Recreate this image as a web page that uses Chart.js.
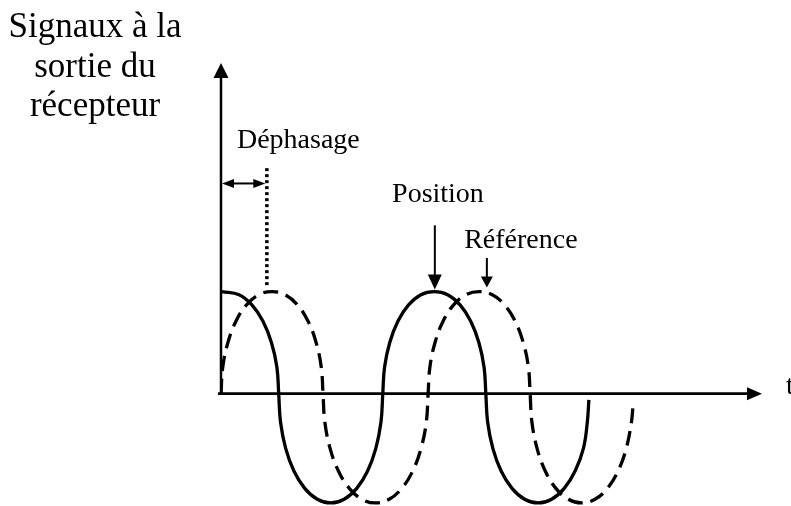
<!DOCTYPE html>
<html>
<head>
<meta charset="utf-8">
<script src="https://cdn.jsdelivr.net/npm/chart.js@4.4.1/dist/chart.umd.min.js"></script>
<style>
  html, body { margin: 0; padding: 0; background: #ffffff; }
  #wrap { width: 791px; height: 506px; position: relative; }
</style>
</head>
<body>
<div id="wrap"><canvas id="chart"></canvas></div>
<script>
// Signal "Position" (solid) - time in quarter periods, amplitude normalised
const timeSolid = [0.02, 0.35, 0.60, 0.815, 0.98, 1.085, 1.12,
                   1.155, 1.255, 1.415, 1.625, 1.87, 2.13, 2.39, 2.635, 2.845, 3.005, 3.105, 3.14,
                   3.174, 3.274, 3.433, 3.64, 3.881, 4.14, 4.399, 4.64, 4.847, 5.006, 5.106, 5.14,
                   5.175, 5.276, 5.437, 5.648, 5.893, 6.155, 6.417, 6.662, 6.873, 7.034, 7.11, 7.14];
const signalSolid = [1.00, 0.97, 0.87, 0.71, 0.50, 0.26, 0.00,
                     -0.277, -0.535, -0.757, -0.927, -1.034, -1.07, -1.034, -0.927, -0.757, -0.535, -0.277, 0.00,
                     0.26, 0.50, 0.71, 0.87, 0.97, 1.00, 0.97, 0.87, 0.71, 0.50, 0.26, 0.00,
                     -0.277, -0.535, -0.757, -0.927, -1.034, -1.07, -1.034, -0.927, -0.757, -0.535, -0.277, -0.06];

// Signal "Référence" (dashed)
const timeDashed = [0.00, 0.034, 0.133, 0.29, 0.495, 0.734, 0.99, 1.246, 1.485, 1.69, 1.847, 1.946, 1.98,
                    2.015, 2.117, 2.279, 2.49, 2.736, 3.00, 3.264, 3.51, 3.721, 3.883, 3.985, 4.02,
                    4.054, 4.153, 4.31, 4.515, 4.754, 5.01, 5.266, 5.505, 5.71, 5.867, 5.966, 6.00,
                    6.034, 6.134, 6.293, 6.50, 6.741, 7.00, 7.259, 7.50, 7.707, 7.866, 7.966, 7.995];
const signalDashed = [0.00, 0.26, 0.50, 0.71, 0.87, 0.97, 1.00, 0.97, 0.87, 0.71, 0.50, 0.26, 0.00,
                      -0.277, -0.535, -0.757, -0.927, -1.034, -1.07, -1.034, -0.927, -0.757, -0.535, -0.277, 0.00,
                      0.26, 0.50, 0.71, 0.87, 0.97, 1.00, 0.97, 0.87, 0.71, 0.50, 0.26, 0.00,
                      -0.277, -0.535, -0.757, -0.927, -1.034, -1.07, -1.034, -0.927, -0.757, -0.535, -0.277, -0.13];

const titleLines = ['Signaux à la', 'sortie du', 'récepteur'];
const axisLabel = 't';
const labelPhase = 'Déphasage';
const labelPosition = 'Position';
const labelReference = 'Référence';

const SERIF = "'Liberation Serif', 'Times New Roman', serif";

function toPoints(xs, ys) {
    return xs.map(function(x, i) { return { x: x, y: ys[i] }; });
}

// filled triangle, tip at (x, y)
function arrowHead(ctx, x, y, dir, len, half) {
    ctx.beginPath();
    ctx.moveTo(x, y);
    if (dir === 'up') { ctx.lineTo(x - half, y + len); ctx.lineTo(x + half, y + len); }
    if (dir === 'down') { ctx.lineTo(x - half, y - len); ctx.lineTo(x + half, y - len); }
    if (dir === 'left') { ctx.lineTo(x + len, y - half); ctx.lineTo(x + len, y + half); }
    if (dir === 'right') { ctx.lineTo(x - len, y - half); ctx.lineTo(x - len, y + half); }
    ctx.closePath();
    ctx.fill();
}

const figurePlugin = {
    id: 'figure',
    beforeDatasetsDraw(chart) {
        const ctx = chart.ctx;
        const xs = chart.scales.x, ys = chart.scales.y;
        const x0 = xs.getPixelForValue(0), y0 = ys.getPixelForValue(0);
        ctx.save();
        ctx.strokeStyle = '#000';
        ctx.fillStyle = '#000';
        // y axis
        ctx.lineWidth = 2.5;
        ctx.beginPath();
        ctx.moveTo(x0, y0 + 1);
        ctx.lineTo(x0, chart.chartArea.top + 12);
        ctx.stroke();
        arrowHead(ctx, x0, chart.chartArea.top + 1, 'up', 15, 7.5);
        // x axis
        ctx.lineWidth = 2.7;
        ctx.beginPath();
        ctx.moveTo(x0 - 3, y0);
        ctx.lineTo(chart.chartArea.right - 12, y0);
        ctx.stroke();
        arrowHead(ctx, chart.chartArea.right, y0, 'right', 15, 6.5);
        ctx.restore();
    },
    afterDatasetsDraw(chart) {
        const ctx = chart.ctx;
        const xs = chart.scales.x, ys = chart.scales.y;
        const px = function(v) { return xs.getPixelForValue(v); };
        const py = function(v) { return ys.getPixelForValue(v); };
        ctx.save();
        ctx.strokeStyle = '#000';
        ctx.fillStyle = '#000';

        // dotted marker of the reference peak
        ctx.lineWidth = 3.5;
        ctx.setLineDash([3, 3]);
        ctx.beginPath();
        ctx.moveTo(px(0.89), py(2.21));
        ctx.lineTo(px(0.89), py(1.04));
        ctx.stroke();
        ctx.setLineDash([]);

        // phase shift double arrow
        ctx.lineWidth = 2;
        ctx.beginPath();
        ctx.moveTo(px(0) + 8, py(2.06));
        ctx.lineTo(px(0.86) - 8, py(2.06));
        ctx.stroke();
        arrowHead(ctx, px(0) + 1, py(2.06), 'left', 12, 4.5);
        arrowHead(ctx, px(0.86), py(2.06), 'right', 12, 4.5);

        // Position arrow
        ctx.beginPath();
        ctx.moveTo(px(4.15), py(1.65));
        ctx.lineTo(px(4.15), py(1.12));
        ctx.stroke();
        arrowHead(ctx, px(4.15), py(1.02), 'down', 15, 7);

        // Référence arrow
        ctx.beginPath();
        ctx.moveTo(px(5.16), py(1.33));
        ctx.lineTo(px(5.16), py(1.12));
        ctx.stroke();
        arrowHead(ctx, px(5.16), py(1.04), 'down', 11, 6);

        // labels
        ctx.textBaseline = 'alphabetic';
        ctx.textAlign = 'left';
        ctx.font = '28px ' + SERIF;
        ctx.fillText(labelPhase, px(0.31), py(2.41));
        ctx.fillText(labelPosition, px(3.32), py(1.88));
        ctx.fillText(labelReference, px(4.72), py(1.43));
        ctx.fillText(axisLabel, 786, py(0));

        // y axis title
        ctx.textAlign = 'center';
        ctx.font = '35px ' + SERIF;
        const baselines = [37, 77, 116];
        titleLines.forEach(function(line, i) {
            ctx.fillText(line, 95, baselines[i]);
        });
        ctx.restore();
    }
};

new Chart(document.getElementById('chart'), {
    type: 'line',
    data: {
        datasets: [
            {
                label: 'Position',
                data: toPoints(timeSolid, signalSolid),
                borderColor: '#000',
                borderWidth: 3.3,
                pointRadius: 0,
                tension: 0.4,
                fill: false
            },
            {
                label: 'Référence',
                data: toPoints(timeDashed, signalDashed),
                borderColor: '#000',
                borderWidth: 3.3,
                borderDash: [15, 8],
                pointRadius: 0,
                tension: 0.4,
                fill: false
            }
        ]
    },
    options: {
        responsive: true,
        maintainAspectRatio: false,
        animation: false,
        devicePixelRatio: 1,
        layout: { padding: { left: 221, right: 29, top: 62, bottom: 0 } },
        plugins: {
            legend: { display: false },
            tooltip: { enabled: false }
        },
        scales: {
            x: { type: 'linear', min: 0, max: 10.5, display: false },
            y: { type: 'linear', min: -1.1, max: 3.25, display: false }
        }
    },
    plugins: [figurePlugin]
});
</script>
</body>
</html>
